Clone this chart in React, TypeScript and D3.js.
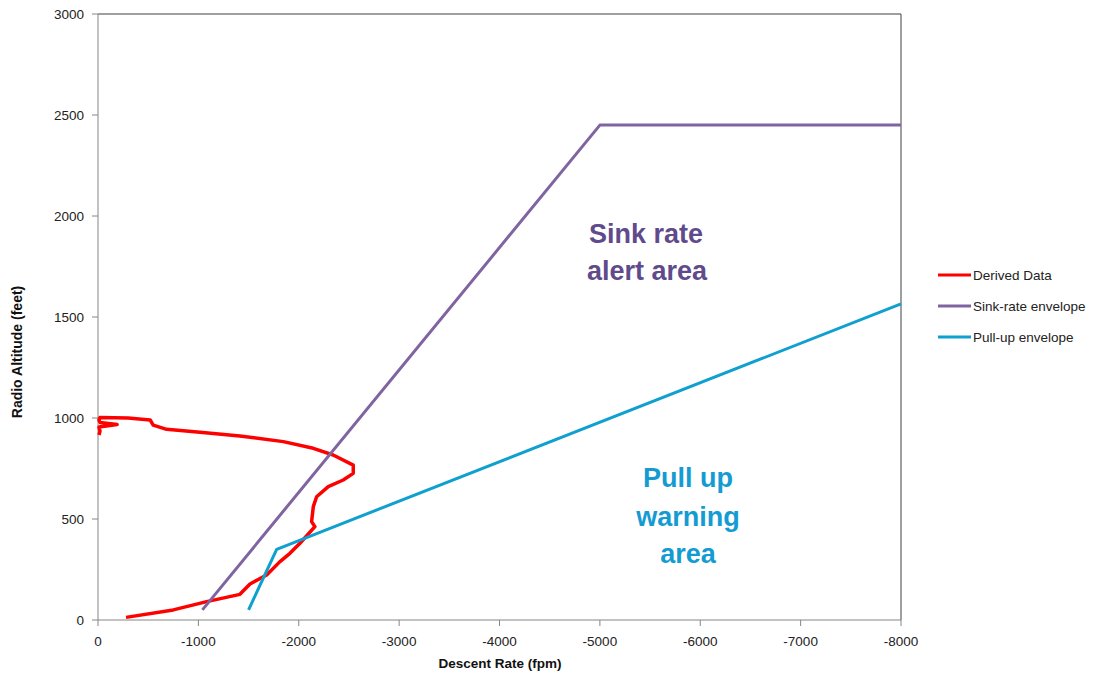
import React from "react";
import * as d3 from "d3";

const derivedData: [number, number][] = [
  [-10, 916], [-20, 935], [-10, 955], [-190, 968], [-20, 978], [-10, 990], [-20, 1003],
  [-300, 1000], [-520, 990], [-550, 965], [-684, 944], [-1016, 929], [-1414, 911],
  [-1846, 883], [-2145, 850], [-2343, 817], [-2543, 767], [-2543, 726], [-2443, 693],
  [-2294, 660], [-2178, 610], [-2145, 561], [-2128, 487], [-2161, 462], [-2012, 380],
  [-1912, 330], [-1813, 289], [-1680, 223], [-1514, 178], [-1414, 127], [-1083, 91],
  [-750, 50], [-279, 13],
];
const sinkRateEnvelope: [number, number][] = [[-1040, 50], [-5000, 2450], [-8000, 2450]];
const pullUpEnvelope: [number, number][] = [[-1500, 50], [-1780, 350], [-8000, 1565]];

const xTicks = [0, -1000, -2000, -3000, -4000, -5000, -6000, -7000, -8000];
const yTicks = [0, 500, 1000, 1500, 2000, 2500, 3000];

const series = [
  { name: "Derived Data", data: derivedData, color: "#FF0000" },
  { name: "Sink-rate envelope", data: sinkRateEnvelope, color: "#8064A2" },
  { name: "Pull-up envelope", data: pullUpEnvelope, color: "#10A0D0" },
];

const FONT = "'Liberation Sans', Arial, sans-serif";

export default function App() {
  const W = 1096, H = 673;
  const x = d3.scaleLinear().domain([0, -8000]).range([98, 901]);
  const y = d3.scaleLinear().domain([0, 3000]).range([620, 14]);
  const line = d3.line<[number, number]>().x(d => x(d[0])).y(d => y(d[1]));

  return (
    <svg width={W} height={H} style={{ position: "absolute", left: 0, top: 0, background: "#fff" }}>
      <rect x={0} y={0} width={W} height={H} fill="#fff" />
      {/* frame */}
      <line x1={x(0)} x2={x(-8000)} y1={y(3000)} y2={y(3000)} stroke="#404040" strokeWidth={1} />
      <line x1={x(-8000)} x2={x(-8000)} y1={y(3000)} y2={y(0)} stroke="#404040" strokeWidth={1} />
      {/* axes */}
      <line x1={x(0)} x2={x(0)} y1={y(3000)} y2={y(0)} stroke="#868686" strokeWidth={1} />
      <line x1={x(0)} x2={x(-8000)} y1={y(0)} y2={y(0)} stroke="#868686" strokeWidth={1} />
      {yTicks.map(t => (
        <g key={"y" + t}>
          <line x1={x(0) - 6} x2={x(0)} y1={y(t)} y2={y(t)} stroke="#868686" />
          <text x={84} y={y(t)} dy="0.35em" textAnchor="end" fontFamily={FONT} fontSize={13.5} fill="#222">{t}</text>
        </g>
      ))}
      {xTicks.map(t => (
        <g key={"x" + t}>
          <line x1={x(t)} x2={x(t)} y1={y(0)} y2={y(0) + 6} stroke="#868686" />
          <text x={x(t)} y={646} textAnchor="middle" fontFamily={FONT} fontSize={13.5} fill="#222">{t}</text>
        </g>
      ))}
      <text x={500} y={668} textAnchor="middle" fontFamily={FONT} fontSize={13.5} fontWeight="bold" fill="#111">Descent Rate (fpm)</text>
      <text transform={`translate(22,352) rotate(-90)`} textAnchor="middle" fontFamily={FONT} fontSize={14} fontWeight="bold" fill="#111">Radio Altitude (feet)</text>

      {/* series */}
      {series.map(s => (
        <path key={s.name} d={line(s.data) || ""} fill="none" stroke={s.color} strokeWidth={s.name === "Derived Data" ? 3.5 : 3} strokeLinejoin="round" />
      ))}

      {/* annotations */}
      <g fontFamily={FONT} fontWeight="bold" fontSize={27} textAnchor="middle">
        <text x={646} y={243} fill="#5F4B8B">Sink rate</text>
        <text x={647} y={280} fill="#5F4B8B">alert area</text>
        <text x={688} y={487} fill="#139BD2">Pull up</text>
        <text x={688} y={526} fill="#139BD2">warning</text>
        <text x={688} y={563} fill="#139BD2">area</text>
      </g>

      {/* legend */}
      {series.map((s, i) => (
        <g key={"lg" + s.name} transform={`translate(938,${275 + i * 31})`}>
          <line x1={0} x2={33} y1={0} y2={0} stroke={s.color} strokeWidth={3} />
          <text x={35} y={0} dy="0.35em" fontFamily={FONT} fontSize={13.5} fill="#222">{s.name}</text>
        </g>
      ))}
    </svg>
  );
}
